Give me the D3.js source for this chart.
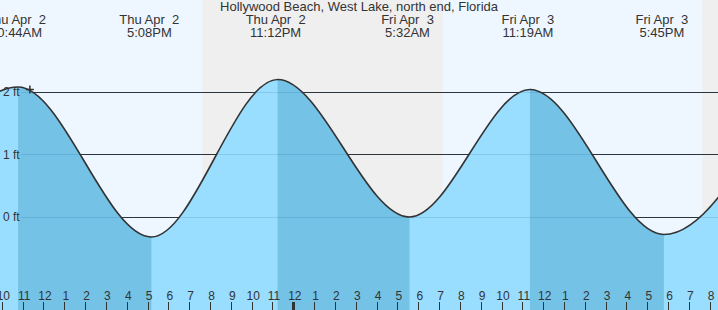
<!DOCTYPE html>
<html>
<head>
<meta charset="utf-8">
<script src="https://cdn.jsdelivr.net/npm/d3@7"></script>
<style>
  body { margin: 0; background: #fff; }
  svg { display: block; font-family: "Liberation Sans", Arial, sans-serif; }
  text { white-space: pre; }
</style>
</head>
<body>
<div id="tide"></div>
<script>
// hours counted from Thu Apr 2 00:00
var eventTimes   = [4.40, 10.733, 17.133, 23.20, 29.533, 35.317, 41.75, 47.80];
var eventHeights = [-0.35, 2.08, -0.32, 2.20, 0.00, 2.04, -0.28, 2.20];
var eventDays    = ["", "Thu Apr  2", "Thu Apr  2", "Thu Apr  2", "Fri Apr  3", "Fri Apr  3", "Fri Apr  3", ""];
var eventClock   = ["", "10:44AM", "5:08PM", "11:12PM", "5:32AM", "11:19AM", "5:45PM", ""];

var nightStart = [19.58, 43.60];
var nightEnd   = [31.13, 46.00];

var gridFeet = [0, 1, 2];
var nowTime = 11.30, nowHeight = 2.04;

var title = "Hollywood Beach, West Lake, north end, Florida";

var width = 718, height = 310;

var svg = d3.select("#tide")
  .append("svg")
    .attr("width", width)
    .attr("height", height);

var x = d3.scaleLinear()
  .domain([9.865, 44.35])
  .range([0, width]);

var y = d3.scaleLinear()
  .domain([0, 2])
  .range([217, 92]);

// day / night background
svg.append("rect")
  .attr("width", width).attr("height", height)
  .attr("fill", "#eef7ff");

svg.selectAll(".night")
  .data(nightStart)
  .enter()
  .append("rect")
    .attr("class", "night")
    .attr("x", function(d){ return x(d); })
    .attr("y", 0)
    .attr("width", function(d, i){ return x(nightEnd[i]) - x(d); })
    .attr("height", height)
    .attr("fill", "#efefef");

// grid lines (dark, above the water)
svg.selectAll(".grid")
  .data(gridFeet)
  .enter()
  .append("line")
    .attr("class", "grid")
    .attr("x1", 21).attr("x2", width)
    .attr("y1", function(d){ return y(d); })
    .attr("y2", function(d){ return y(d); })
    .attr("stroke", "#333")
    .attr("stroke-width", 1)
    .attr("shape-rendering", "crispEdges");

var tides = eventTimes.map(function(t, i){ return {t: t, h: eventHeights[i]}; });

var area = d3.area()
  .curve(d3.curveMonotoneX)
  .x(function(d){ return x(d.t); })
  .y0(height)
  .y1(function(d){ return y(d.h); });

var line = d3.line()
  .curve(d3.curveMonotoneX)
  .x(function(d){ return x(d.t); })
  .y(function(d){ return y(d.h); });

svg.append("path")
  .datum(tides)
  .attr("d", area)
  .attr("fill", "#99ddff");

// falling tide (high -> low) is shaded darker
var falls = [];
for (var i = 0; i < tides.length - 1; i++) {
  if (tides[i].h > tides[i+1].h) falls.push([tides[i].t, tides[i+1].t]);
}
var defs = svg.append("defs");
var clip = defs.append("clipPath").attr("id", "falling");
clip.selectAll("rect")
  .data(falls)
  .enter()
  .append("rect")
    .attr("x", function(d){ return x(d[0]); })
    .attr("y", 0)
    .attr("width", function(d){ return x(d[1]) - x(d[0]); })
    .attr("height", height);

svg.append("path")
  .datum(tides)
  .attr("d", area)
  .attr("clip-path", "url(#falling)")
  .attr("fill", "#74c2e6");

// grid lines again, faint, through the water
svg.selectAll(".gridwater")
  .data(gridFeet)
  .enter()
  .append("line")
    .attr("class", "gridwater")
    .attr("x1", 21).attr("x2", width)
    .attr("y1", function(d){ return y(d); })
    .attr("y2", function(d){ return y(d); })
    .attr("stroke", "rgba(0,60,120,0.13)")
    .attr("shape-rendering", "crispEdges");

svg.append("path")
  .datum(tides)
  .attr("d", line)
  .attr("fill", "none")
  .attr("stroke", "#333")
  .attr("stroke-width", 1.6);

// y labels
svg.selectAll(".ylab")
  .data(gridFeet)
  .enter()
  .append("text")
    .attr("class", "ylab")
    .attr("x", 3)
    .attr("y", function(d){ return y(d) + 4; })
    .attr("font-size", 12)
    .attr("fill", "#333")
    .text(function(d){ return d + " ft"; });

// current time marker
var nx = x(nowTime), ny = y(nowHeight);
svg.append("path")
  .attr("d", "M" + (nx-4) + "," + ny + "H" + (nx+4) + "M" + nx + "," + (ny-4) + "V" + (ny+4))
  .attr("stroke", "#333")
  .attr("stroke-width", 1.5);

// title
svg.append("text")
  .attr("x", width/2)
  .attr("y", 11)
  .attr("text-anchor", "middle")
  .attr("font-size", 13)
  .attr("fill", "#333")
  .text(title);

// high / low labels
var labeled = tides.map(function(d, i){ return {t: d.t, day: eventDays[i], clock: eventClock[i]}; })
  .filter(function(d){ return d.day != ""; });

var ev = svg.selectAll(".ev")
  .data(labeled)
  .enter()
  .append("text")
    .attr("class", "ev")
    .attr("text-anchor", "middle")
    .attr("font-size", 13)
    .attr("fill", "#333");
ev.append("tspan")
  .attr("x", function(d){ return x(d.t) - 2; })
  .attr("y", 24)
  .text(function(d){ return d.day; });
ev.append("tspan")
  .attr("x", function(d){ return x(d.t) - 2; })
  .attr("y", 37)
  .text(function(d){ return d.clock; });

// hour axis along the bottom
var hours = d3.range(10, 45);
var xAxis = d3.axisBottom(x)
  .tickValues(hours)
  .tickSize(0)
  .tickFormat(function(h){ return (h % 12 == 0) ? "12" : String(h % 12); });

var axis = svg.append("g")
  .attr("transform", "translate(0,288)")
  .call(xAxis);
axis.select(".domain").remove();
axis.selectAll("text")
  .attr("y", 3)
  .attr("dy", "0.71em")
  .attr("font-size", 12)
  .attr("font-family", "\"Liberation Sans\", Arial, sans-serif")
  .attr("fill", "#333");

svg.selectAll(".htick")
  .data(hours)
  .enter()
  .append("line")
    .attr("class", "htick")
    .attr("x1", function(d){ return Math.round(x(d)) - 0.5; })
    .attr("x2", function(d){ return Math.round(x(d)) - 0.5; })
    .attr("y1", 302).attr("y2", height)
    .attr("stroke", "#333")
    .attr("stroke-width", function(d){ return d % 24 == 0 ? 3 : 1; });
</script>
</body>
</html>
